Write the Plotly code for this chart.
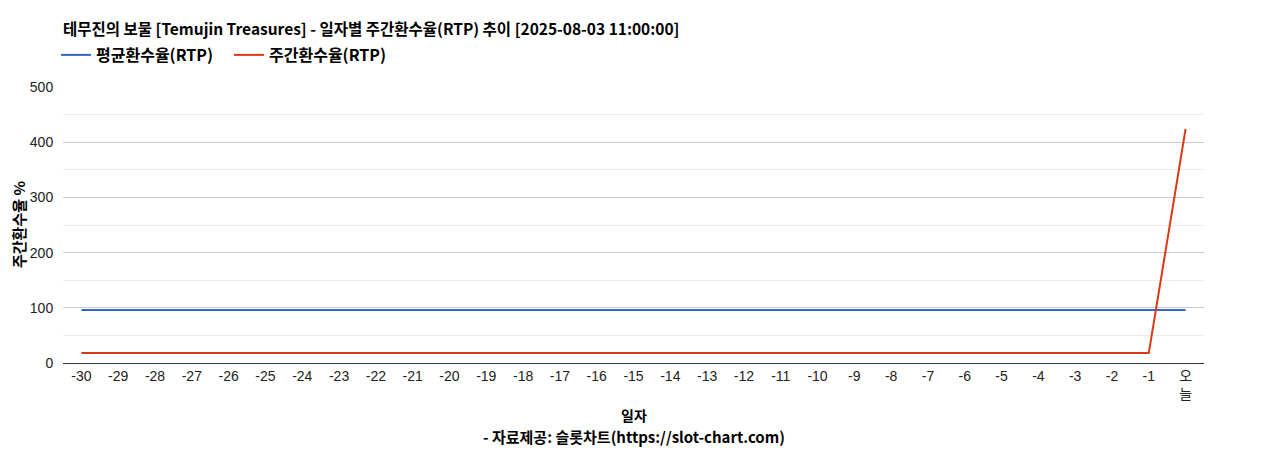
import plotly.graph_objects as go

days = [str(d) for d in range(-30, 0)] + ["오<br>늘"]
avg_rtp = [96.0] * 31
weekly_rtp = [18.0] * 30 + [424.0]

title_text = "테무진의 보물 [Temujin Treasures] - 일자별 주간환수율(RTP) 추이 [2025-08-03 11:00:00]"
y_title = "주간환수율 %"
x_title = "일자"
source_text = "- 자료제공: 슬롯차트(https://slot-chart.com)"
y_ticks = [0, 100, 200, 300, 400, 500]

TICKFONT = "Arial, 'Liberation Sans', 'Noto Sans CJK KR', sans-serif"
LABELFONT = "'Noto Sans CJK KR', 'Noto Sans', sans-serif"

# page is rendered with an 8px body margin, so the figure is shifted by 8px
OFF = 8
W, H = 1268 - 2 * OFF, 450 - OFF
L, T = 63 - OFF, 87 - OFF
R = W - (1204 - OFF)
B = H - (363 - OFF)
PW = W - L - R
PH = H - T - B

fig = go.Figure()
fig.add_trace(go.Scatter(x=days, y=avg_rtp, mode="lines", name="<b>평균환수율(RTP)</b>",
                         line=dict(color="#3366cc", width=2)))
fig.add_trace(go.Scatter(x=days, y=weekly_rtp, mode="lines", name="<b>주간환수율(RTP)</b>",
                         line=dict(color="#dc3912", width=2)))

fig.update_layout(
    template="none",
    width=W, height=H,
    margin=dict(l=L, r=R, t=T, b=B, autoexpand=False),
    paper_bgcolor="white", plot_bgcolor="white",
    font=dict(family=TICKFONT, size=14, color="#222222"),
    title=dict(text="<b>" + title_text + "</b>", x=L / W, xanchor="left",
               y=1 - (30 - OFF) / H, yanchor="middle",
               font=dict(family=LABELFONT, size=15.5, color="#000000")),
    legend=dict(orientation="h", x=-7 / PW, xref="paper", xanchor="left",
                y=1 + (87 - 55) / PH, yanchor="middle",
                font=dict(family=LABELFONT, size=16, color="#000000"),
                entrywidth=128, entrywidthmode="pixels",
                traceorder="normal", bgcolor="rgba(0,0,0,0)"),
    showlegend=True,
    hovermode=False,
)

fig.update_xaxes(
    type="category", range=[-0.5, 30.5], showgrid=False, automargin=False,
    showline=True, linecolor="#333333", linewidth=1, zeroline=False,
    ticks="", tickfont=dict(size=14, color="#222222"),
    fixedrange=True,
)
fig.update_yaxes(
    range=[0, 500], tickvals=y_ticks, showgrid=True, gridcolor="#cccccc", gridwidth=1,
    minor=dict(dtick=50, showgrid=True, gridcolor="#ebebeb", gridwidth=1),
    zeroline=False, showline=False, automargin=False,
    ticks="outside", ticklen=6, tickcolor="rgba(0,0,0,0)",
    tickfont=dict(size=14, color="#222222"),
    fixedrange=True,
)

fig.add_annotation(text="<b>" + y_title + "</b>", xref="paper", yref="paper",
                   x=-(63 - 18) / PW, y=0.5, xanchor="center", yanchor="middle",
                   textangle=-90, showarrow=False,
                   font=dict(family=LABELFONT, size=15, color="#000000"))
fig.add_annotation(text="<b>" + x_title + "</b>", xref="paper", yref="paper",
                   x=0.5, y=-(415 - 363) / PH, xanchor="center", yanchor="middle",
                   showarrow=False, font=dict(family=LABELFONT, size=14, color="#000000"))
fig.add_annotation(text="<b>" + source_text + "</b>", xref="paper", yref="paper",
                   x=0.5, y=-(436 - 363) / PH, xanchor="center", yanchor="middle",
                   showarrow=False, font=dict(family=LABELFONT, size=15, color="#000000"))

fig.write_html("out.html")
